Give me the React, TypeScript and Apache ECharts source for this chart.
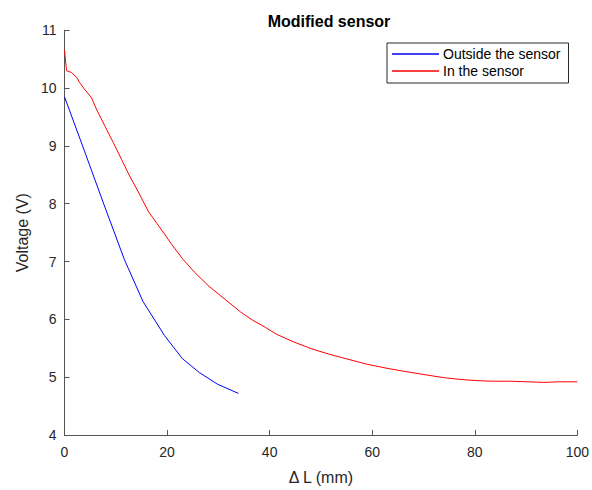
import React, { useEffect, useRef } from "react";
import * as echarts from "echarts";

const titleText = "Modified sensor";
const xName = "\u0394 L (mm)";
const yName = "Voltage (V)";
const seriesNames = ["Outside the sensor", "In the sensor"];

const outsideX = [0, 3.9, 7.8, 11.7, 15.3, 19.5, 23.0, 26.3, 29.8, 33.9];
const outsideV = [9.85, 8.91, 7.96, 7.03, 6.31, 5.72, 5.32, 5.08, 4.88, 4.72];

const insideX = [0, 0.4, 1.4, 2.4, 3.0, 4.0, 5.3, 6.2, 7.9, 9.5, 11.1, 12.7, 14.3, 16.4, 18.5, 20.8, 23.0, 25.3, 28.2, 31.4, 34.3, 36.6, 39.2, 41.4, 44.7, 48.2, 51.5, 55.3, 59.2, 63.1, 67.0, 70.5, 74.1, 77.3, 80.5, 83.8, 87.0, 90.2, 93.4, 96.7, 100];
const insideV = [10.66, 10.30, 10.27, 10.18, 10.09, 9.97, 9.83, 9.64, 9.34, 9.06, 8.77, 8.48, 8.22, 7.86, 7.60, 7.31, 7.05, 6.82, 6.57, 6.34, 6.13, 5.99, 5.86, 5.74, 5.61, 5.49, 5.40, 5.31, 5.22, 5.15, 5.09, 5.04, 4.99, 4.96, 4.94, 4.93, 4.93, 4.92, 4.91, 4.92, 4.92];

const FONT = "'Liberation Sans', Arial, Helvetica, sans-serif";
const AX = "#262626";

export default function App() {
  const ref = useRef<HTMLDivElement>(null);
  useEffect(() => {
    if (!ref.current) return;
    const chart = echarts.init(ref.current, undefined, { renderer: "svg" });
    const axisCommon = {
      axisLine: { show: true, lineStyle: { color: "#555", width: 1 } },
      axisTick: { show: true, inside: true, length: 5, lineStyle: { color: "#555", width: 1 } },
      splitLine: { show: false },
      axisLabel: { color: AX, fontSize: 14, fontFamily: FONT },
      nameLocation: "middle" as const,
      nameTextStyle: { color: AX, fontSize: 16, fontFamily: FONT },
    };
    chart.setOption({
      animation: false,
      backgroundColor: "#fff",
      title: {
        text: titleText,
        left: 324,
        textAlign: "center",
        top: 8,
        textStyle: { fontSize: 16, fontWeight: "bold", color: "#000", fontFamily: FONT },
      },
      grid: { left: 64.5, right: 11.7, top: 30.3, bottom: 52.3, containLabel: false },
      xAxis: {
        type: "value",
        min: 0,
        max: 100,
        interval: 20,
        name: xName,
        nameGap: 34,
        ...axisCommon,
        axisLabel: { ...axisCommon.axisLabel, margin: 10 },
      },
      yAxis: {
        type: "value",
        min: 4,
        max: 11,
        interval: 1,
        name: yName,
        nameGap: 30,
        ...axisCommon,
        axisLabel: { ...axisCommon.axisLabel, margin: 8 },
      },
      legend: {
        orient: "vertical",
        left: 387,
        top: 43,
        padding: [4, 8, 5, 5],
        itemGap: 3,
        itemWidth: 47,
        itemHeight: 1.5,
        icon: "rect",
        borderColor: AX,
        borderWidth: 1,
        backgroundColor: "#fff",
        textStyle: { fontSize: 14, color: "#000", fontFamily: FONT, padding: [0, 0, 0, -1] },
        data: seriesNames,
      },
      series: [
        {
          name: seriesNames[0],
          type: "line",
          data: outsideX.map((x, i) => [x, outsideV[i]]),
          showSymbol: false,
          symbol: "none",
          lineStyle: { color: "#0000ff", width: 1 },
          itemStyle: { color: "#0000ff" },
        },
        {
          name: seriesNames[1],
          type: "line",
          data: insideX.map((x, i) => [x, insideV[i]]),
          showSymbol: false,
          symbol: "none",
          lineStyle: { color: "#ff0000", width: 1 },
          itemStyle: { color: "#ff0000" },
        },
      ],
    });
    return () => chart.dispose();
  }, []);
  return <div ref={ref} style={{ width: 592, height: 490, position: "absolute", left: 0, top: 0 }} />;
}
